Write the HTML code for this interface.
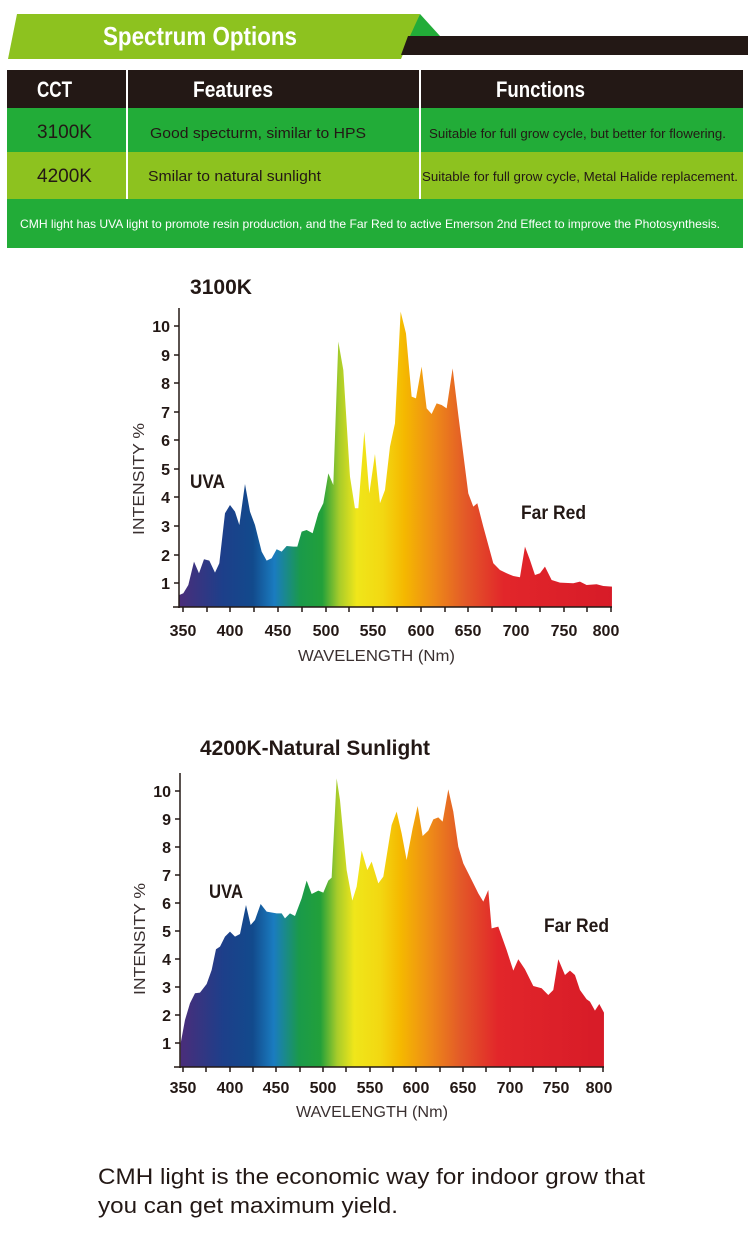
<!DOCTYPE html>
<html><head><meta charset="utf-8"><style>
body{margin:0;background:#fff;width:750px;height:1247px;overflow:hidden}
svg{display:block}
.c{font-family:"Liberation Sans",sans-serif;font-weight:bold}
.n{font-family:"Liberation Sans",sans-serif}
.s{font-family:"Liberation Sans",sans-serif}
</style></head><body>
<svg width="750" height="1247" viewBox="0 0 750 1247" xmlns="http://www.w3.org/2000/svg">
<defs>
<linearGradient id="g1" gradientUnits="userSpaceOnUse" x1="178" y1="0" x2="1476" y2="0">
<stop offset="0" stop-color="#4a2d7a"/><stop offset="0.1" stop-color="#1d3f8a"/><stop offset="0.17" stop-color="#124a8c"/><stop offset="0.22" stop-color="#1a7cc0"/><stop offset="0.28" stop-color="#1a9a4a"/><stop offset="0.33" stop-color="#22a03a"/><stop offset="0.37" stop-color="#a8cc2a"/><stop offset="0.41" stop-color="#f0e61a"/><stop offset="0.47" stop-color="#f2d812"/><stop offset="0.52" stop-color="#f5b800"/><stop offset="0.59" stop-color="#ee8a18"/><stop offset="0.66" stop-color="#e35a28"/><stop offset="0.75" stop-color="#e2262a"/><stop offset="1" stop-color="#d71b28"/>
</linearGradient>
<linearGradient id="g2" href="#g1" x1="182" x2="1452"/>
</defs>

<polygon points="17,14 420,14 401,59 8,59" fill="#8dc21f"/>
<polygon points="420,14 440,36 410,36" fill="#22ac38"/>
<polygon points="408,36 748,36 748,55 401,55" fill="#231815"/>
<text x="103" y="45" class="c" font-size="26" fill="#fff" textLength="194" lengthAdjust="spacingAndGlyphs">Spectrum Options</text>

<rect x="7" y="70" width="736" height="38" fill="#231815"/>
<rect x="7" y="108" width="736" height="44" fill="#22ac38"/>
<rect x="7" y="152" width="736" height="47" fill="#8dc21f"/>
<rect x="7" y="199" width="736" height="49" fill="#22ac38"/>
<rect x="126" y="70" width="2" height="129" fill="#fff"/>
<rect x="419" y="70" width="2" height="129" fill="#fff"/>
<text x="37" y="97" class="c" font-size="22" fill="#fff" textLength="35" lengthAdjust="spacingAndGlyphs">CCT</text>
<text x="193" y="97" class="c" font-size="22" fill="#fff" textLength="80" lengthAdjust="spacingAndGlyphs">Features</text>
<text x="496" y="97" class="c" font-size="22" fill="#fff" textLength="89" lengthAdjust="spacingAndGlyphs">Functions</text>
<text x="37" y="138" class="s" font-size="19" fill="#231815">3100K</text>
<text x="150" y="138" class="s" font-size="15" fill="#231815" textLength="216" lengthAdjust="spacingAndGlyphs">Good specturm, similar to HPS</text>
<text x="429" y="138" class="s" font-size="13" fill="#231815" textLength="297" lengthAdjust="spacingAndGlyphs">Suitable for full grow cycle, but better for flowering.</text>
<text x="37" y="182" class="s" font-size="19" fill="#231815">4200K</text>
<text x="148" y="181" class="s" font-size="15" fill="#231815" textLength="173" lengthAdjust="spacingAndGlyphs">Smilar to natural sunlight</text>
<text x="422" y="181" class="s" font-size="13" fill="#231815" textLength="316" lengthAdjust="spacingAndGlyphs">Suitable for full grow cycle, Metal Halide replacement.</text>
<text x="20" y="228" class="s" font-size="12" fill="#fff" textLength="700" lengthAdjust="spacingAndGlyphs">CMH light has UVA light to promote resin production, and the Far Red to active Emerson 2nd Effect to improve the Photosynthesis.</text>

<!-- chart 1 -->
<text x="190" y="294" class="c" font-size="21" fill="#231815" textLength="62" lengthAdjust="spacingAndGlyphs">3100K</text>
<g transform="translate(120,290) scale(0.3333)">
<polygon fill="url(#g1)" points="178,952 178,915 190,910 205,885 222,815 237,850 252,808 268,812 285,848 298,820 315,670 330,645 345,665 358,705 375,582 390,665 405,705 425,785 440,812 455,805 470,778 485,785 500,768 520,770 532,770 545,725 560,720 578,730 595,670 610,640 625,550 640,585 655,155 670,240 690,560 705,655 715,655 733,425 748,610 765,492 780,640 795,600 810,470 825,400 842,65 858,130 875,320 888,325 905,230 920,355 935,372 950,340 965,345 980,355 998,235 1015,375 1045,610 1060,650 1072,640 1090,710 1120,820 1140,840 1160,850 1180,858 1200,862 1215,770 1230,810 1245,855 1260,850 1275,830 1295,870 1320,878 1360,880 1380,875 1400,885 1430,883 1450,888 1476,890 1476,952"/>
</g>
<g stroke="#231815" stroke-width="1.5">
<line x1="179" y1="308" x2="179" y2="608"/><line x1="173" y1="607" x2="612" y2="607"/>
<line x1="174" y1="326" x2="179" y2="326"/><line x1="174" y1="355" x2="179" y2="355"/><line x1="174" y1="383" x2="179" y2="383"/><line x1="174" y1="412" x2="179" y2="412"/><line x1="174" y1="440" x2="179" y2="440"/><line x1="174" y1="469" x2="179" y2="469"/><line x1="174" y1="497" x2="179" y2="497"/><line x1="174" y1="526" x2="179" y2="526"/><line x1="174" y1="555" x2="179" y2="555"/><line x1="174" y1="583" x2="179" y2="583"/>
<path d="M183 607v5M207 607v5M230 607v5M254 607v5M278 607v5M302 607v5M326 607v5M349 607v5M373 607v5M397 607v5M421 607v5M445 607v5M468 607v5M492 607v5M516 607v5M540 607v5M564 607v5M587 607v5M611 607v5"/>
</g>
<g class="c" font-size="16" fill="#231815" text-anchor="end">
<text x="170" y="332">10</text><text x="170" y="361">9</text><text x="170" y="389">8</text><text x="170" y="418">7</text><text x="170" y="446">6</text><text x="170" y="475">5</text><text x="170" y="503">4</text><text x="170" y="532">3</text><text x="170" y="561">2</text><text x="170" y="589">1</text>
</g>
<g class="c" font-size="16" fill="#231815" text-anchor="middle">
<text x="183" y="636">350</text><text x="230" y="636">400</text><text x="278" y="636">450</text><text x="326" y="636">500</text><text x="373" y="636">550</text><text x="421" y="636">600</text><text x="468" y="636">650</text><text x="516" y="636">700</text><text x="564" y="636">750</text><text x="606" y="636">800</text>
</g>
<text x="298" y="661" class="n" font-size="16" fill="#3a3030" textLength="157" lengthAdjust="spacingAndGlyphs">WAVELENGTH (Nm)</text>
<text transform="translate(144,535) rotate(-90)" class="n" font-size="16" fill="#3a3030" textLength="112" lengthAdjust="spacingAndGlyphs">INTENSITY %</text>
<text x="190" y="488" class="c" font-size="19" fill="#231815" textLength="35" lengthAdjust="spacingAndGlyphs">UVA</text>
<text x="521" y="519" class="c" font-size="19" fill="#231815" textLength="65" lengthAdjust="spacingAndGlyphs">Far Red</text>

<!-- chart 2 -->
<text x="200" y="755" class="c" font-size="21" fill="#231815" textLength="230" lengthAdjust="spacingAndGlyphs">4200K-Natural Sunlight</text>
<g transform="translate(120,730) scale(0.3333)">
<polygon fill="url(#g2)" points="182,1012 182,940 195,870 210,820 225,790 240,788 260,762 275,720 288,658 300,650 315,620 330,605 345,620 360,612 378,525 392,585 405,570 422,522 440,545 470,550 485,550 495,565 510,550 525,558 545,505 560,452 575,492 595,482 610,488 625,452 635,443 650,145 660,210 680,420 697,512 710,470 725,362 742,420 755,395 775,460 790,440 815,285 830,245 845,310 860,390 878,295 893,228 908,318 925,302 940,268 955,262 968,275 985,178 1000,245 1015,350 1030,400 1050,440 1075,490 1090,515 1105,480 1115,595 1135,590 1160,660 1180,722 1195,688 1215,718 1240,768 1265,775 1285,795 1300,780 1315,688 1335,735 1350,722 1365,735 1380,780 1400,808 1410,815 1425,842 1438,822 1452,848 1452,1012"/>
</g>
<g stroke="#231815" stroke-width="1.5">
<line x1="180" y1="773" x2="180" y2="1068"/><line x1="174" y1="1067" x2="604" y2="1067"/>
<line x1="175" y1="791" x2="180" y2="791"/><line x1="175" y1="819" x2="180" y2="819"/><line x1="175" y1="847" x2="180" y2="847"/><line x1="175" y1="875" x2="180" y2="875"/><line x1="175" y1="903" x2="180" y2="903"/><line x1="175" y1="931" x2="180" y2="931"/><line x1="175" y1="959" x2="180" y2="959"/><line x1="175" y1="987" x2="180" y2="987"/><line x1="175" y1="1015" x2="180" y2="1015"/><line x1="175" y1="1043" x2="180" y2="1043"/>
<path d="M183 1067v5M206 1067v5M230 1067v5M253 1067v5M276 1067v5M300 1067v5M323 1067v5M346 1067v5M370 1067v5M393 1067v5M416 1067v5M440 1067v5M463 1067v5M486 1067v5M510 1067v5M533 1067v5M556 1067v5M580 1067v5M603 1067v5"/>
</g>
<g class="c" font-size="16" fill="#231815" text-anchor="end">
<text x="171" y="797">10</text><text x="171" y="825">9</text><text x="171" y="853">8</text><text x="171" y="881">7</text><text x="171" y="909">6</text><text x="171" y="937">5</text><text x="171" y="965">4</text><text x="171" y="993">3</text><text x="171" y="1021">2</text><text x="171" y="1049">1</text>
</g>
<g class="c" font-size="16" fill="#231815" text-anchor="middle">
<text x="183" y="1093">350</text><text x="230" y="1093">400</text><text x="276" y="1093">450</text><text x="323" y="1093">500</text><text x="370" y="1093">550</text><text x="416" y="1093">600</text><text x="463" y="1093">650</text><text x="510" y="1093">700</text><text x="556" y="1093">750</text><text x="599" y="1093">800</text>
</g>
<text x="296" y="1117" class="n" font-size="16" fill="#3a3030" textLength="152" lengthAdjust="spacingAndGlyphs">WAVELENGTH (Nm)</text>
<text transform="translate(145,995) rotate(-90)" class="n" font-size="16" fill="#3a3030" textLength="112" lengthAdjust="spacingAndGlyphs">INTENSITY %</text>
<text x="209" y="898" class="c" font-size="19" fill="#231815" textLength="34" lengthAdjust="spacingAndGlyphs">UVA</text>
<text x="544" y="932" class="c" font-size="19" fill="#231815" textLength="65" lengthAdjust="spacingAndGlyphs">Far Red</text>

<text x="98" y="1184" class="s" font-size="22.5" fill="#231815" textLength="547" lengthAdjust="spacingAndGlyphs">CMH light is the economic way for indoor grow that</text>
<text x="98" y="1213" class="s" font-size="22.5" fill="#231815" textLength="300" lengthAdjust="spacingAndGlyphs">you can get maximum yield.</text>
</svg>
</body></html>
